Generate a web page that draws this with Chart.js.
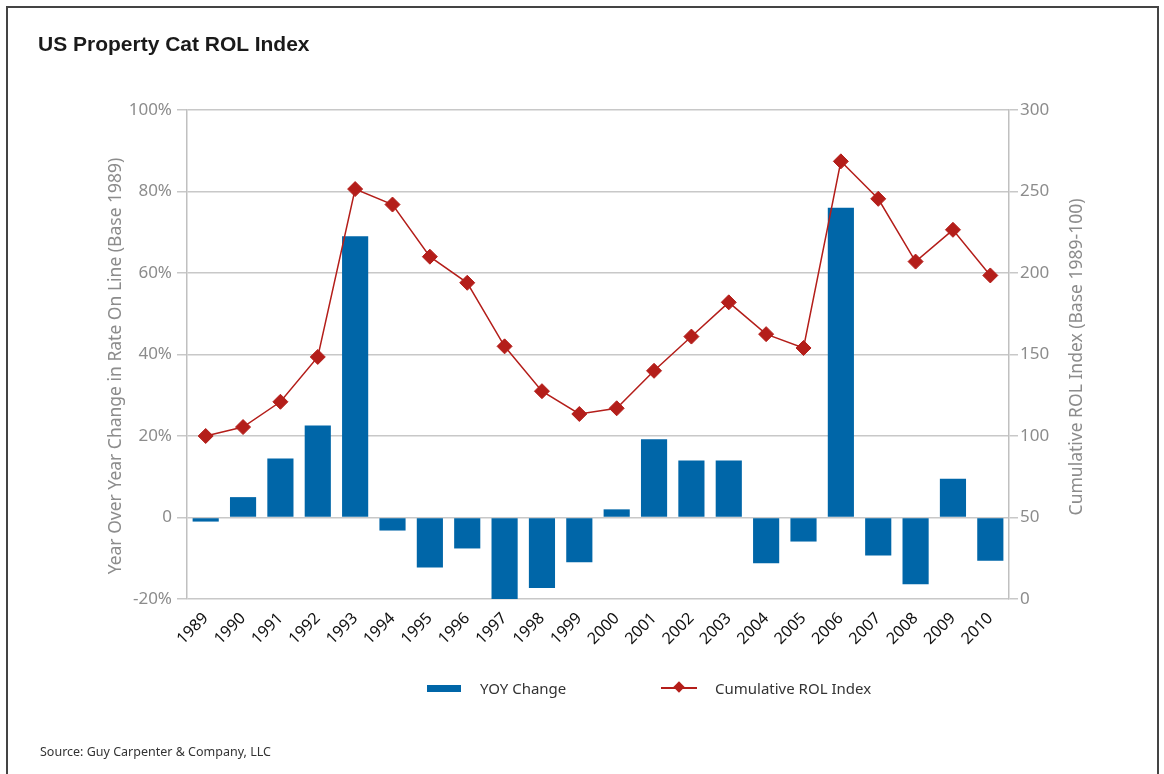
<!DOCTYPE html>
<html lang="en">
<head>
    <meta charset="UTF-8">
    <title>US Property Cat ROL Index</title>
    <script src="https://cdn.jsdelivr.net/npm/chart.js@4.4.0/dist/chart.umd.min.js"></script>
    <style>
        body { margin: 0; background: #fff; width: 1164px; height: 774px; overflow: hidden; position: relative; }
        #cadre { position: absolute; left: 6px; top: 6px; width: 1149px; height: 820px; border: 2px solid #444; border-bottom: none; }
        #titre { position: absolute; left: 38px; top: 32px; font: bold 21px "Liberation Sans", Arial, sans-serif; color: #1a1a1a; }
        #source { position: absolute; left: 40px; top: 743px; font: 12.5px "Noto Sans", sans-serif; color: #333; }
        #myChart { position: absolute; left: 0; top: 0; }
        .legende { position: absolute; font: 15px "Noto Sans", sans-serif; color: #333; top: 678px; }
        .carre-barre { position: absolute; left: 427px; top: 685px; width: 34px; height: 7px; background: #0066a8; }
        .trait-ligne { position: absolute; left: 661px; top: 687px; width: 36px; height: 2px; background: #b41e1a; }
        .losange { position: absolute; left: 675px; top: 683px; width: 8px; height: 8px; background: #b41e1a; transform: rotate(45deg); }
    </style>
</head>
<body>
<div id="cadre"></div>
<canvas id="myChart" width="1164" height="774"></canvas>
<div id="titre">US Property Cat ROL Index</div>
<div class="carre-barre"></div>
<div class="legende" style="left:480px">YOY Change</div>
<div class="trait-ligne"></div>
<div class="losange"></div>
<div class="legende" style="left:715px">Cumulative ROL Index</div>
<div id="source">Source: Guy Carpenter &amp; Company, LLC</div>
<script>

    // Données
    let annees = ['1989', '1990', '1991', '1992', '1993', '1994', '1995', '1996', '1997', '1998', '1999',
        '2000', '2001', '2002', '2003', '2004', '2005', '2006', '2007', '2008', '2009', '2010'];
    let variationsAnnuelles = [-1, 5, 14.5, 22.6, 69, -3.2, -12.3, -7.6, -20, -17.3, -11,
        2, 19.2, 14, 14, -11.2, -5.9, 76, -9.3, -16.4, 9.5, -10.6];
    let indiceCumule = [100, 105.5, 121, 148.5, 251.5, 242, 210, 194, 155, 127.5, 113.5,
        117, 140, 161, 182, 162.5, 154, 268.5, 245.5, 207, 226.5, 198.5];
    let ticksGauche = [-20, 0, 20, 40, 60, 80, 100];
    let ticksDroite = [0, 50, 100, 150, 200, 250, 300];

    let grisTexte = '#8c8c8c';
    let grisGrille = '#c8c8c8';

    // titres des axes, écrits de bas en haut des deux côtés
    let titresAxes = {
        id: 'titresAxes',
        afterDraw: (chart) => {
            let ctx = chart.ctx;
            let ecrit = (texte, x, y) => {
                ctx.save();
                ctx.translate(x, y);
                ctx.rotate(-Math.PI / 2);
                ctx.font = '17.5px "Noto Sans", sans-serif';
                ctx.fillStyle = grisTexte;
                ctx.textAlign = 'center';
                ctx.textBaseline = 'middle';
                ctx.fillText(texte, 0, 0);
                ctx.restore();
            };
            ecrit('Year Over Year Change in Rate On Line (Base 1989)', 116, 366);
            ecrit('Cumulative ROL Index (Base 1989-100)', 1077, 357);
        }
    };

    let ctx = document.getElementById('myChart').getContext('2d');
    let chart = new Chart(ctx, {
        type: 'bar',
        data: {
            labels: annees,
            datasets: [
                {
                    type: 'line',
                    label: 'Cumulative ROL Index',
                    data: indiceCumule,
                    yAxisID: 'y1',
                    borderColor: '#b41e1a',
                    backgroundColor: '#b41e1a',
                    borderWidth: 1.5,
                    pointStyle: 'rectRot',
                    pointRadius: 7.5,
                    pointBorderWidth: 1,
                    tension: 0,
                    order: 0
                },
                {
                    type: 'bar',
                    label: 'YOY Change',
                    data: variationsAnnuelles,
                    yAxisID: 'y',
                    backgroundColor: '#0066a8',
                    barPercentage: 0.7,
                    categoryPercentage: 1,
                    order: 1
                }
            ]
        },
        options: {
            responsive: false,
            animation: false,
            layout: { padding: { top: 110, right: 0, bottom: 0, left: 0 } },
            plugins: {
                legend: { display: false },
                tooltip: { enabled: false }
            },
            scales: {
                x: {
                    grid: { display: false },
                    border: { display: false },
                    ticks: {
                        color: '#111',
                        font: { family: 'Noto Sans', size: 16 },
                        minRotation: 45,
                        maxRotation: 45,
                        padding: 2
                    },
                    afterFit: (scale) => { scale.height = 175; }
                },
                y: {
                    position: 'left',
                    min: -20,
                    max: 100,
                    afterBuildTicks: (scale) => { scale.ticks = ticksGauche.map(v => ({ value: v })); },
                    grid: { color: grisGrille, lineWidth: 1.5, tickLength: 10 },
                    border: { display: true, color: '#c0c0c0', width: 1.5 },
                    ticks: {
                        color: grisTexte,
                        font: { family: 'Noto Sans', size: 17 },
                        padding: 5,
                        callback: (v) => v === 0 ? '0' : v + '%'
                    },
                    afterFit: (scale) => { scale.width = 187; }
                },
                y1: {
                    position: 'right',
                    min: 0,
                    max: 300,
                    afterBuildTicks: (scale) => { scale.ticks = ticksDroite.map(v => ({ value: v })); },
                    grid: { drawOnChartArea: false, color: grisGrille, lineWidth: 1.5, tickLength: 9 },
                    border: { display: true, color: '#c0c0c0', width: 1.5 },
                    ticks: {
                        color: grisTexte,
                        font: { family: 'Noto Sans', size: 17 },
                        padding: 2
                    },
                    afterFit: (scale) => { scale.width = 155; }
                }
            }
        },
        plugins: [titresAxes]
    });

</script>
</body>
</html>
